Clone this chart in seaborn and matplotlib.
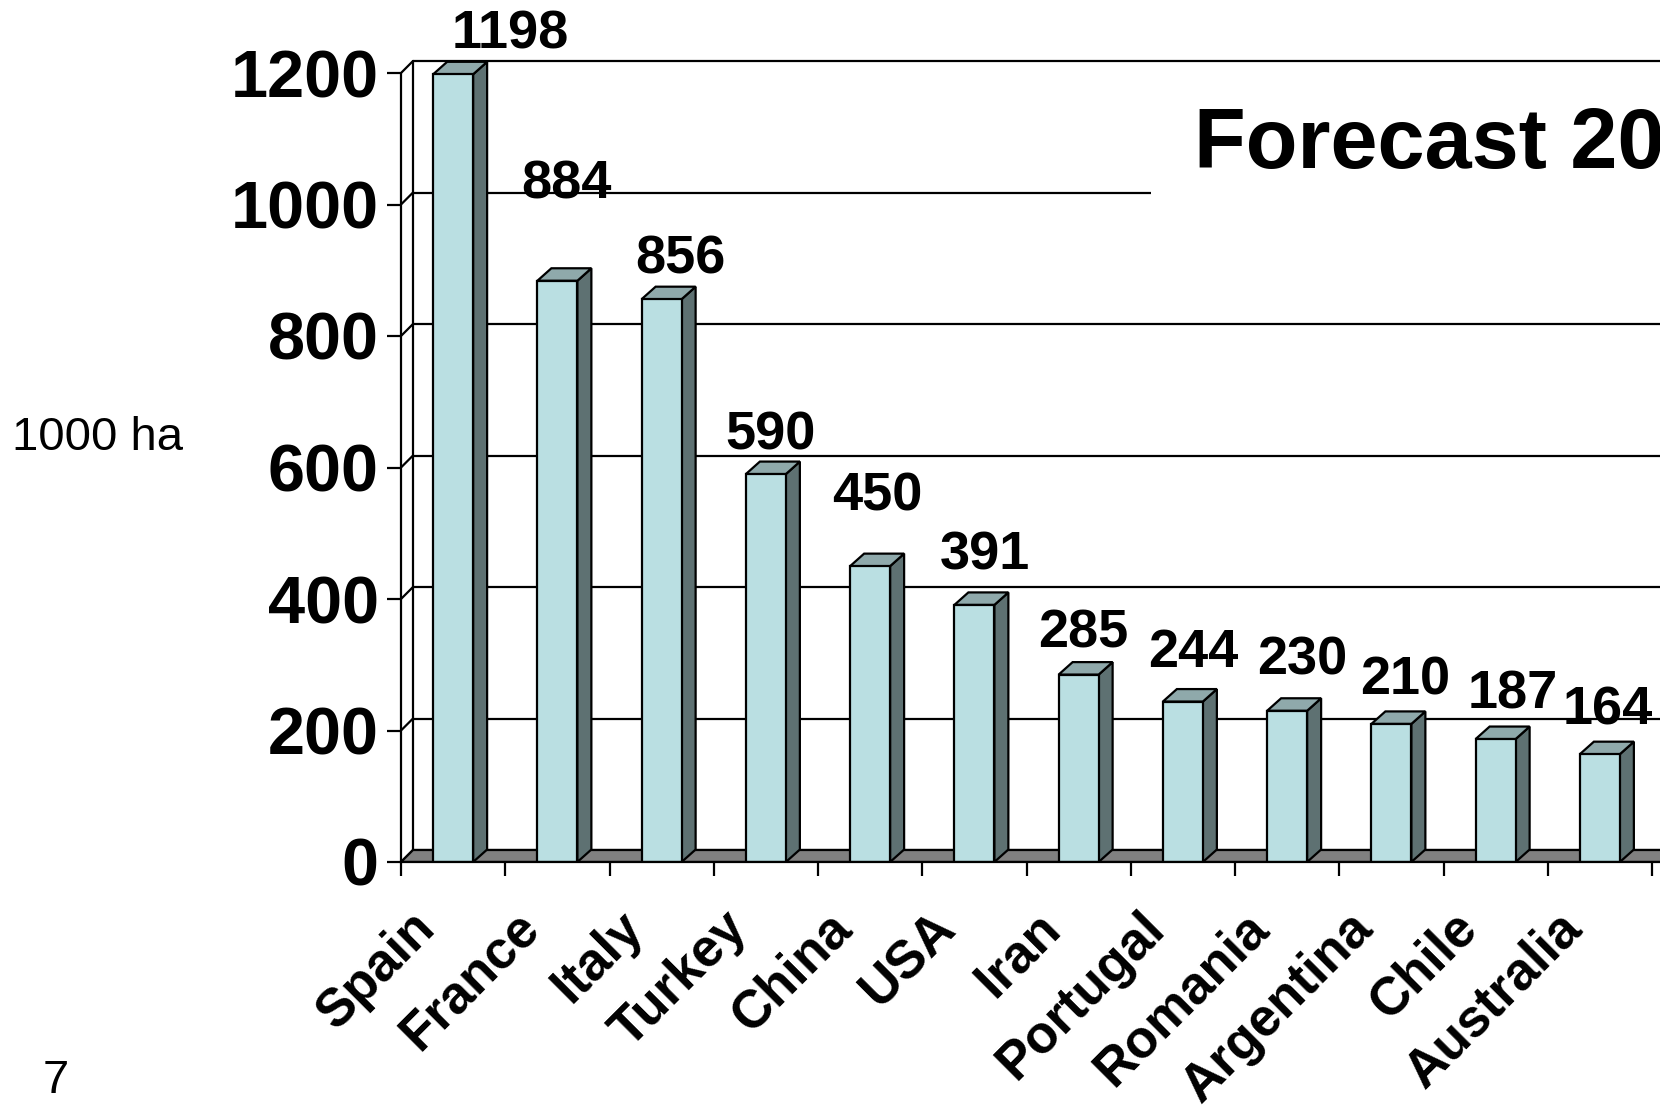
import matplotlib
matplotlib.use("Agg")
import matplotlib.pyplot as plt
import matplotlib.transforms as mtransforms
from matplotlib.patches import Polygon, Rectangle
import seaborn as sns
import pandas as pd

# Datos
countries = ["Spain", "France", "Italy", "Turkey", "China", "USA", "Iran",
             "Portugal", "Romania", "Argentina", "Chile", "Australia"]
area = [1198, 884, 856, 590, 450, 391, 285, 244, 230, 210, 187, 164]
y_ticks = [0, 200, 400, 600, 800, 1000, 1200]

# posiciones de las etiquetas tal como estaban en la diapositiva (pixeles)
label_dx = [57, 9, 19, 5, 7, 11, 5, 10, 15, 14, 17, 8]
label_dy = [26, 82, 26, 25, 56, 35, 27, 35, 36, 29, 31, 30]

FRONT = "#badfe2"
TOP = "#8fa9ab"
SIDE = "#5e7172"
FLOOR = "#808080"
LW = 1.6

sns.set_theme(style="white")
plt.rcParams["font.family"] = ["Liberation Sans", "DejaVu Sans"]
plt.rcParams["text.color"] = "black"
plt.rcParams["xtick.color"] = "black"
plt.rcParams["ytick.color"] = "black"
plt.rcParams["axes.labelcolor"] = "black"

W, H = 1660, 1108
px_per_unit = 131.5 / 200
slot = 104.25
fig = plt.figure(figsize=(W / 100, H / 100), dpi=100)
ymax = 1230
ax = fig.add_axes([401 / W, (H - 862) / H, (W - 401) / W, ymax * px_per_unit / H])

df = pd.DataFrame({"country": countries, "area": area})
sns.barplot(data=df, x="country", y="area", color=FRONT, saturation=1,
            width=40 / slot, edgecolor="black", linewidth=LW, ax=ax, zorder=4)

xmax = -0.5 + (W - 401) / slot
ax.set_xlim(-0.5, xmax)
ax.set_ylim(0, ymax)

# profundidad del efecto 3D (en unidades de datos)
dxw, dyw = 12 / slot, 12 / px_per_unit
dxb, dyb = 14 / slot, 12.5 / px_per_unit

# suelo
ax.add_patch(Polygon([(-0.5, 0), (-0.5 + dxw, dyw), (xmax + 1, dyw), (xmax + 1, 0)],
                     closed=True, facecolor=FLOOR, edgecolor="black", lw=LW, zorder=2))
# pared del fondo y pared izquierda
for t in y_ticks:
    ax.plot([-0.5 + dxw, xmax + 1], [t + dyw, t + dyw], color="black", lw=LW, zorder=1)
    ax.plot([-0.5, -0.5 + dxw], [t, t + dyw], color="black", lw=LW, zorder=1)
ax.plot([-0.5 + dxw, -0.5 + dxw], [dyw, 1200 + dyw], color="black", lw=LW, zorder=1)

# caras laterales y superiores de las barras
for p in list(ax.patches):
    if not isinstance(p, matplotlib.patches.Rectangle):
        continue
    x0, w, h = p.get_x(), p.get_width(), p.get_height()
    ax.add_patch(Polygon([(x0 + w, 0), (x0 + w + dxb, dyb), (x0 + w + dxb, h + dyb), (x0 + w, h)],
                         closed=True, facecolor=SIDE, edgecolor="black", lw=LW, zorder=3))
    ax.add_patch(Polygon([(x0, h), (x0 + dxb, h + dyb), (x0 + w + dxb, h + dyb), (x0 + w, h)],
                         closed=True, facecolor=TOP, edgecolor="black", lw=LW, zorder=3))

# etiquetas de valores
for i, v in enumerate(area):
    ax.annotate(str(v), xy=(i, v), xytext=(label_dx[i], label_dy[i]),
                textcoords="offset pixels", ha="center", va="baseline",
                fontsize=39, fontweight="bold", color="black", zorder=6)

# ejes
for s in ["top", "right"]:
    ax.spines[s].set_visible(False)
ax.spines["left"].set_bounds(0, 1200)
ax.spines["left"].set_linewidth(LW)
ax.spines["bottom"].set_linewidth(LW)
ax.spines["left"].set_color("black")
ax.spines["bottom"].set_color("black")
ax.spines["bottom"].set_zorder(5)

ax.set_yticks(y_ticks)
ax.set_yticklabels([str(t) for t in y_ticks], fontsize=48, fontweight="bold")
ax.tick_params(axis="y", direction="out", length=10, width=LW, pad=6, left=True, colors="black")

ax.set_xticks(range(len(countries)))
ax.set_xticks([i - 0.5 for i in range(len(countries) + 1)], minor=True)
ax.set_xticklabels(countries, fontsize=38, fontweight="bold", rotation=45,
                   ha="right", rotation_mode="anchor")
ax.tick_params(axis="x", which="major", length=0, pad=29)
ax.tick_params(axis="x", which="minor", direction="out", length=10, width=LW,
               bottom=True, color="black")
shift = mtransforms.ScaledTranslation(-44 / 100, 0, fig.dpi_scale_trans)
for lab in ax.get_xticklabels():
    lab.set_transform(lab.get_transform() + shift)
ax.set_xlabel("")
ax.set_ylabel("")
ax.grid(False)

# recuadro blanco del titulo
fig.patches.append(Rectangle((1151 / W, (H - 300) / H), 1, 220 / H, transform=fig.transFigure,
                             facecolor="white", edgecolor="none", zorder=1))
fig.text(1194 / W, (H - 168) / H, "Forecast 20", fontsize=61, fontweight="bold",
         ha="left", va="baseline", zorder=3)

fig.text(12 / W, (H - 450) / H, "1000 ha", fontsize=34, ha="left", va="baseline")
fig.text(43 / W, (H - 1093) / H, "7", fontsize=34, ha="left", va="baseline")

fig.savefig("out.png", dpi=100)
